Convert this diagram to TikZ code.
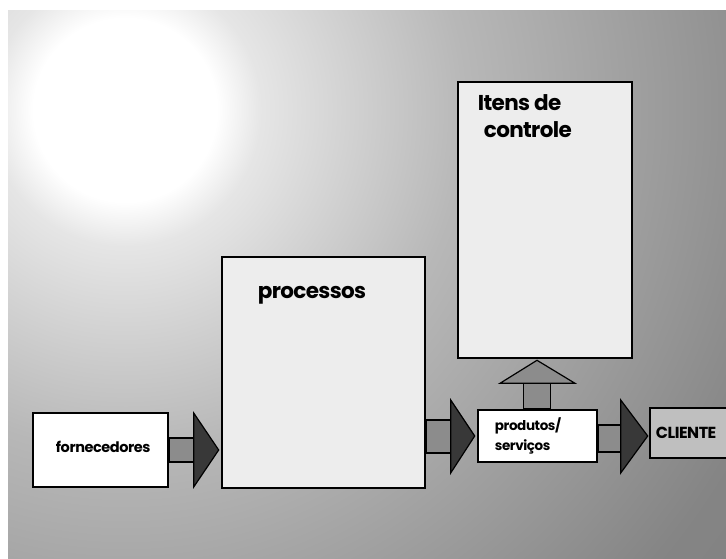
\documentclass[tikz,border=0pt]{standalone}
\usepackage{fontspec}
\setmainfont{Poppins}[LetterSpace=-3]
\usetikzlibrary{calc}
\pgfdeclareradialshading{backdrop}{\pgfpoint{0bp}{0bp}}{%
  color(0bp)=(white); color(2.7bp)=(white); color(4bp)=(black!10);
  color(10bp)=(black!28); color(20.5bp)=(black!48); color(25bp)=(black!50);
  color(50bp)=(black!50)}
\tikzset{
  block/.style={draw=black, line width=2.6pt, inner sep=0pt},
  plain/.style={block, fill=white},
  dotted box/.style={block, fill=black!7},
  label/.style={font=\bfseries, text=black, inner sep=0pt, align=left},
  shaft/.style={draw=black, line width=1.6pt, fill=black!45},
  head/.style={draw=black, line width=1.2pt, fill=black!78, line join=miter},
}
\begin{document}
\begin{tikzpicture}[x=1pt,y=-1pt]
  \useasboundingbox (0,0) rectangle (726,559);
  % paper and the gradient backdrop
  \fill[white] (0,0) rectangle (726,559);
  \begin{scope}
    \clip (8,11) rectangle (726,559);
    \shade[shading=backdrop] (125,110) circle (850);
  \end{scope}

  % blocks
  \node[plain, minimum width=135pt, minimum height=74pt] (forn) at (100.5,450) {};
  \node[dotted box, minimum width=203pt, minimum height=231pt] (proc) at (323.5,372.5) {};
  \node[dotted box, minimum width=174pt, minimum height=276pt] (itens) at (545,220) {};
  \node[plain, minimum width=119pt, minimum height=52pt] (prod) at (537.5,436) {};
  \node[block, fill=black!25, minimum width=90pt, minimum height=50pt] (cli) at (695,433) {};

  % labels
  \node[label, font=\bfseries\fontsize{14.5}{14.5}\selectfont, anchor=west] (tforn) at ($(forn.west)+(24,-3)$) {fornecedores};
  \node[label, font=\bfseries\fontsize{21.5}{21.5}\selectfont, anchor=west] (tproc) at ($(proc.north west)+(37,40)$) {processos};
  \node[label, font=\bfseries\fontsize{21.5}{27}\selectfont, anchor=north west] (titens) at ($(itens.north west)+(21,14)$) {Itens de\\\hspace*{6pt}controle};
  \node[label, font=\bfseries\fontsize{13.5}{20}\selectfont, anchor=west] (tprod) at ($(prod.west)+(18,0)$) {produtos/\\serviços};
  \node[label, font=\bfseries\fontsize{16}{16}\selectfont, anchor=west] (tcli) at ($(cli.west)+(7,0)$) {CLIENTE};

  % fornecedores -> processos
  \draw[shaft] ($(forn.east)+(0,-12)$) rectangle ($(forn.east)+(29,12)$);
  \draw[head] ($(proc.west |- forn.east)+(-27,-37)$) -- ($(proc.west |- forn.east)+(-2,0)$) -- ($(proc.west |- forn.east)+(-27,37)$) -- cycle;

  % processos -> produtos/servicos
  \draw[shaft] ($(proc.east |- prod.west)+(0,-16)$) rectangle ($(proc.east |- prod.west)+(30,17)$);
  \draw[head] ($(prod.west)+(-26,-36)$) -- ($(prod.west)+(-2,0)$) -- ($(prod.west)+(-26,37)$) -- cycle;

  % produtos/servicos -> itens de controle
  \draw[shaft] ($(prod.north)+(-14,0)$) rectangle ($(prod.north)+(13,-28)$);
  \draw[head, fill=black!45] ($(itens.south)+(-45,24)$) -- ($(itens.south)+(-8,1)$) -- ($(itens.south)+(30,24)$) -- cycle;

  % produtos/servicos -> CLIENTE
  \draw[shaft] ($(prod.east)+(0,-11)$) rectangle ($(prod.east)+(26,16)$);
  \draw[head] ($(cli.west |- prod.east)+(-28,-36)$) -- ($(cli.west |- prod.east)+(-1,0)$) -- ($(cli.west |- prod.east)+(-28,37)$) -- cycle;
\end{tikzpicture}
\end{document}
